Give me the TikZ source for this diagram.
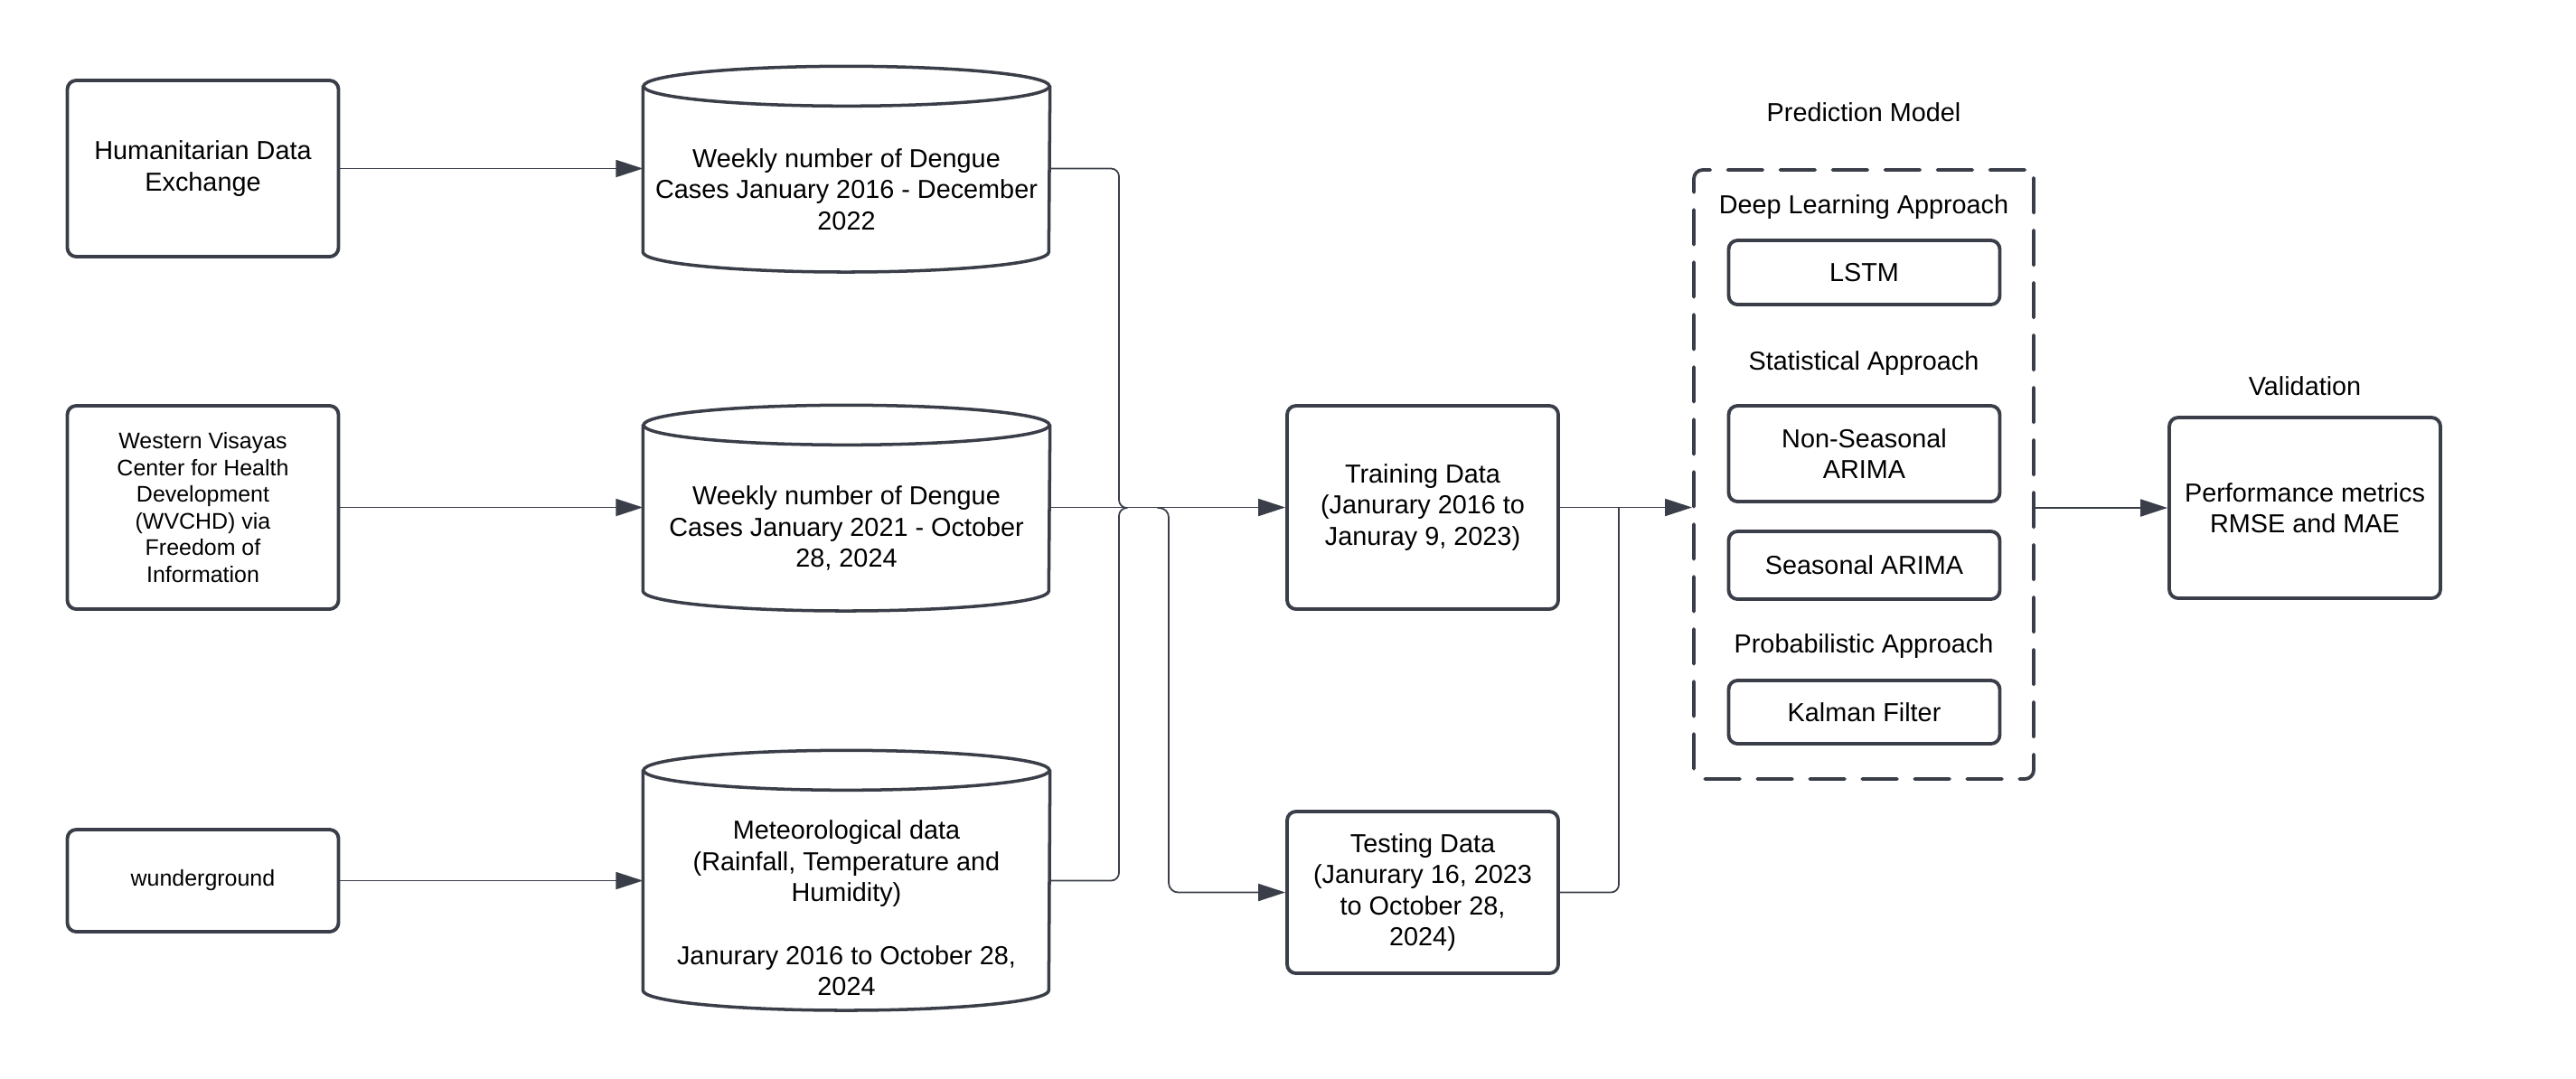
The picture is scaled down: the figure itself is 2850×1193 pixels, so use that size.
\documentclass[tikz,border=0pt]{standalone}
\usepackage{fontspec}
\setmainfont{Liberation Sans}
\usetikzlibrary{arrows.meta,calc}
\definecolor{lc}{RGB}{58,62,72}
\begin{document}
\begin{tikzpicture}[line join=round, line cap=round, >={Triangle[length=8.5pt,width=5.4pt]}, x=0.1mm, y=-0.1mm]
	\tikzset{every node/.style={font=\fontsize{8.2}{9.8}\selectfont, align=center, inner sep=0pt},
		box/.style={draw=lc, line width=1.1pt, rounded corners=2.8pt, minimum width=3cm},
		small/.style={font=\fontsize{7.1}{8.4}\selectfont},
		db/.style={minimum width=4.49cm},
		link/.style={draw=lc, line width=0.5pt, rounded corners=2.5pt}}
	\useasboundingbox (0,0) rectangle (2850,1193);
	% sources
	\node[box, minimum height=1.95cm] (hdx) at (224.5,186.5) {Humanitarian Data\\Exchange};
	\node[box, small, minimum height=2.25cm] (wv) at (224.5,561.5) {Western Visayas\\Center for Health\\Development\\(WVCHD) via\\Freedom of\\Information};
	\node[box, small, minimum height=1.13cm] (wu) at (224.5,974.5) {wunderground};
	% data sets (north = front of the lid)
	\node[db, minimum height=1.83cm] (db1) at (936.5,209.5) {Weekly number of Dengue\\Cases January 2016 - December\\2022};
	\node[db, minimum height=1.83cm] (db2) at (936.5,584.5) {Weekly number of Dengue\\Cases January 2021 - October\\28, 2024};
	\node[db, minimum height=2.6cm] (db3) at (936.5,1005) {Meteorological data\\(Rainfall, Temperature and\\Humidity)\\[10pt]Janurary 2016 to October 28,\\2024};
	\foreach \n/\b in {db1/301,db2/676,db3/1118}{
		\draw[draw=lc, line width=1pt] ($(\n.north west)+(0,-22)$) -- ($(\n.west |- 0,\b)+(0,-22)$)
			arc[start angle=180, end angle=0, x radius=224.5, y radius=22] -- ($(\n.north east)+(0,-22)$);
		\draw[draw=lc, line width=1pt] ($(\n.north)+(0,-22)$) ellipse[x radius=224.5, y radius=22];
	}
	% split
	\node[box, minimum height=2.25cm] (train) at (1574,561.5) {Training Data\\(Janurary 2016 to\\Januray 9, 2023)};
	\node[box, minimum height=1.79cm] (test) at (1574,987.5) {Testing Data\\(Janurary 16, 2023\\to October 28,\\2024)};
	% models
	\node[draw=lc, line width=1.1pt, dash pattern=on 11pt off 5.5pt, rounded corners=2.8pt, minimum width=3.76cm, minimum height=6.74cm] (pm) at (2062,525) {};
	\node (pmt) at (2062,124) {Prediction Model};
	\node (dlt) at (2062,229) {Deep Learning Approach};
	\node[box, minimum height=0.71cm] (lstm) at (2062.5,301.5) {LSTM};
	\node (stt) at (2062,402) {Statistical Approach};
	\node[box, minimum height=1.06cm] (nsar) at (2062.5,502) {Non-Seasonal\\ARIMA};
	\node[box, minimum height=0.75cm] (sar) at (2062.5,625.5) {Seasonal ARIMA};
	\node (prt) at (2062,715) {Probabilistic Approach};
	\node[box, minimum height=0.70cm] (kal) at (2062.5,788) {Kalman Filter};
	% validation
	\node (valt) at (2550,427) {Validation};
	\node[box, minimum height=2cm] (val) at (2550,562) {Performance metrics\\RMSE and MAE};
	% connectors
	\coordinate (jl) at (1238,562);
	\coordinate (jb) at (1293,562);
	\coordinate (jr) at (1791,562);
	\draw[->, link] (hdx.east) -- (hdx.east -| db1.west);
	\draw[->, link] (wv.east) -- (wv.east -| db2.west);
	\draw[->, link] (wu.east) -- (wu.east -| db3.west);
	\draw[link] (db1.east |- hdx.east) -| (jl) -- ++(8,0);
	\draw[link] (db3.east |- wu.east) -| (jl) -- ++(8,0);
	\draw[->, link] (db2.east |- wv.east) -- (train.west);
	\draw[->, link, rounded corners=3pt] ($(jb)+(-12,0)$) -- (jb) |- (test.west);
	\draw[->, link] (train.east) -- (train.east -| pm.west);
	\draw[link] (test.east) -| (jr);
	\draw[->, link] (val.west -| pm.east) -- (val.west);
\end{tikzpicture}
\end{document}
